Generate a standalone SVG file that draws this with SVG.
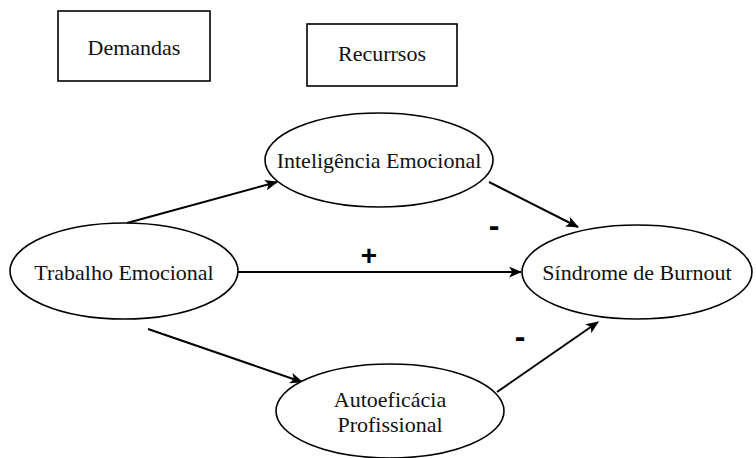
<svg xmlns="http://www.w3.org/2000/svg" width="756" height="458" viewBox="0 0 756 458">
<defs>
<marker id="ah" viewBox="0 0 12 10" refX="11" refY="5" markerWidth="13" markerHeight="11" markerUnits="userSpaceOnUse" orient="auto">
<path d="M0,0 L12,5 L0,10 L3,5 Z" fill="#000"/>
</marker>
<style>
.box{fill:#fff;stroke:#000;stroke-width:1.6}
.node{fill:#fff;stroke:#000;stroke-width:1.6}
.t{font-family:"Liberation Serif","Times New Roman",serif;font-size:22px;fill:#111;text-anchor:middle}
.e{stroke:#000;stroke-width:2;fill:none;marker-end:url(#ah)}
.s{font-family:"Liberation Sans",Arial,sans-serif;font-weight:bold;fill:#000;text-anchor:middle}
</style>
</defs>
<rect width="756" height="458" fill="#fff"/>
<g id="demandas"><rect class="box" x="58" y="11" width="152" height="70"/><text class="t" x="134" y="55">Demandas</text></g>
<g id="recursos"><rect class="box" x="307" y="24" width="150" height="62"/><text class="t" x="382" y="61">Recurrsos</text></g>
<g id="connectors">
<line class="e" x1="127" y1="223" x2="277" y2="182"/>
<line class="e" x1="238" y1="272" x2="521" y2="272"/>
<line class="e" x1="489" y1="182" x2="578" y2="227"/>
<line class="e" x1="148" y1="329" x2="302" y2="382"/>
<line class="e" x1="497" y1="392" x2="598" y2="322"/>
<text class="s" x="369" y="265" font-size="28">+</text>
<text class="s" x="494" y="236" font-size="32">-</text>
<text class="s" x="520" y="347" font-size="32">-</text>
</g>
<g id="inteligencia"><ellipse class="node" cx="379" cy="160" rx="114" ry="47"/><text class="t" x="379" y="168">Inteligência Emocional</text></g>
<g id="trabalho"><ellipse class="node" cx="124" cy="271" rx="114" ry="48"/><text class="t" x="124" y="280">Trabalho Emocional</text></g>
<g id="burnout"><ellipse class="node" cx="637" cy="272" rx="115" ry="47"/><text class="t" x="637" y="280">Síndrome de Burnout</text></g>
<g id="autoeficacia"><ellipse class="node" cx="390" cy="411" rx="114" ry="47"/><text class="t" x="390" y="407">Autoeficácia</text><text class="t" x="390" y="432">Profissional</text></g>
</svg>
